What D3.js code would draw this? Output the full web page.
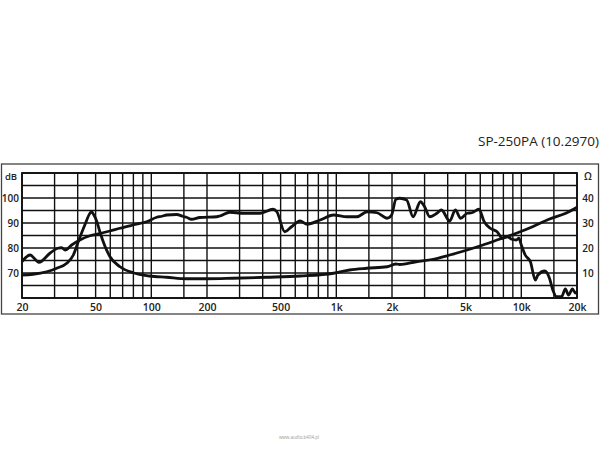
<!DOCTYPE html>
<html><head><meta charset="utf-8">
<script src="https://cdn.jsdelivr.net/npm/d3@7"></script>
<style>html,body{margin:0;padding:0;background:#fff;}svg{display:block;}</style>
</head><body>
<svg id="c" width="600" height="450"></svg>
<script>
const title = "SP-250PA (10.2970)";
const xTickValues = [20, 50, 100, 200, 500, 1000, 2000, 5000, 10000, 20000];
const xTickLabels = ["20", "50", "100", "200", "500", "1k", "2k", "5k", "10k", "20k"];
const xGrid = [20,30,40,50,60,70,80,90,100,150,200,300,400,500,600,700,800,900,1000,1500,2000,3000,4000,5000,6000,7000,8000,9000,10000,15000,20000];
const dbTicks = [70, 80, 90, 100];
const ohmTicks = [10, 20, 30, 40];

const splFreq = [20, 22.1, 24.7, 28.3, 31.2, 32.8, 34.2, 37.1, 41.1, 46.6, 52.7, 59.7, 67.7, 79.7, 94.4, 107, 114, 121, 137, 149, 155, 165, 183, 226, 235, 266, 313, 388, 455, 477, 526, 573, 637, 696, 817, 966, 1140, 1292, 1470, 1661, 1880, 1990, 2100, 2200, 2400, 2600, 2850, 3000, 3200, 3500, 3700, 4100, 4400, 4700, 5100, 5400, 5900, 6300, 6800, 7400, 7900, 8400, 8900, 9400, 9700, 10000, 10500, 11200, 11900, 12300, 13400, 14200, 14800, 15500, 16500, 17300, 18000, 18900, 19600, 20000];
const splDb = [74.5, 77.2, 74.3, 77.9, 79.9, 80.1, 79.2, 81.2, 83.2, 84.9, 85.8, 86.8, 87.9, 89.2, 90.5, 92.3, 92.7, 93.2, 93.4, 92.6, 92.3, 91.5, 92.2, 92.5, 92.8, 94.3, 93.9, 93.9, 95.5, 94.5, 86.5, 88.5, 90.8, 89.5, 91.2, 93.2, 92.5, 92.5, 94.5, 94.1, 91.9, 93.2, 99.5, 99.9, 99.2, 92.5, 98.5, 96.5, 92.5, 93.9, 95.2, 90.8, 95.2, 91.9, 93.9, 94.1, 95.5, 90.5, 87.9, 86.5, 83.9, 84.5, 83.5, 83.2, 83.9, 81.2, 77.2, 74.5, 67.2, 69.2, 70.8, 67.9, 63.2, 60.5, 60.5, 63.6, 61.2, 63.6, 62.0, 62.5];

const impFreq = [20, 22.9, 27.2, 30.8, 34.9, 37.9, 40.6, 43.7, 46.6, 47.5, 48.6, 50.8, 52.7, 56.3, 59.8, 67.7, 79.7, 98, 121, 155, 200, 275, 420, 637, 966, 1180, 1460, 1880, 2100, 2200, 2700, 3340, 4100, 5100, 6200, 7600, 9400, 11500, 14100, 17400, 20000];
const impOhm = [9.2, 9.5, 10.5, 11.9, 13.9, 17.2, 23.2, 29.2, 33.9, 34.5, 33.6, 30.5, 26.5, 20.5, 16.5, 12.5, 10.1, 8.8, 8.3, 7.7, 7.7, 7.9, 8.3, 8.8, 9.9, 11.2, 11.9, 12.5, 13.6, 13.4, 14.5, 15.5, 17.2, 19.2, 21.2, 23.5, 25.9, 28.5, 31.5, 33.9, 36.3];

const svg = d3.select("#c");
const L = 22, R = 577, T = 173, B = 298;
const x = d3.scaleLog().domain([20, 20000]).range([L, R]);
const yDb = d3.scaleLinear().domain([60, 110]).range([B, T]);
const yOhm = d3.scaleLinear().domain([0, 50]).range([B, T]);
const font = "'Open Sans', 'DejaVu Sans', sans-serif";

// title
svg.append("text").attr("x", 599).attr("y", 146).attr("text-anchor", "end")
  .attr("font-family", font).attr("font-size", 13.5).attr("fill", "#222").text(title);

// outer frame
svg.append("rect").attr("x", 1.5).attr("y", 164).attr("width", 597).attr("height", 150)
  .attr("fill", "none").attr("stroke", "#444").attr("stroke-width", 1.3);

// horizontal grid (every 5 dB)
const g = svg.append("g");
g.selectAll("line.h").data(d3.range(60, 111, 5)).join("line")
  .attr("x1", L).attr("x2", R).attr("y1", d => yDb(d)).attr("y2", d => yDb(d))
  .attr("stroke", "#111").attr("stroke-width", 1.4);
g.selectAll("line.v").data(xGrid).join("line")
  .attr("y1", T).attr("y2", B).attr("x1", d => x(d)).attr("x2", d => x(d))
  .attr("stroke", "#111").attr("stroke-width", 1.4);
svg.append("rect").attr("x", L).attr("y", T).attr("width", R - L).attr("height", B - T)
  .attr("fill", "none").attr("stroke", "#111").attr("stroke-width", 1.8);

// x axis labels
const xa = d3.axisBottom(x).tickValues(xTickValues).tickFormat((d, i) => xTickLabels[i]).tickSize(0).tickPadding(0);
const xg = svg.append("g").attr("transform", `translate(0,${B})`).call(xa);
xg.select(".domain").remove();
xg.selectAll("text").attr("y", 13).attr("dy", 0).attr("font-family", font).attr("font-size", 10.5).attr("font-weight", 600).attr("fill", "#222");

// left dB axis
const ya = d3.axisLeft(yDb).tickValues(dbTicks).tickSize(0).tickPadding(0);
const yg = svg.append("g").attr("transform", `translate(${L - 3},0)`).call(ya);
yg.select(".domain").remove();
yg.selectAll("text").attr("dy", "0.35em").attr("font-family", font).attr("font-size", 10).attr("font-weight", 600).attr("fill", "#222");
svg.append("text").attr("x", 11).attr("y", 180).attr("text-anchor", "middle").attr("font-family", font)
  .attr("font-size", 9.5).attr("font-weight", 600).attr("fill", "#222").text("dB");

// right ohm axis
const ra = d3.axisRight(yOhm).tickValues(ohmTicks).tickSize(0).tickPadding(0);
const rg = svg.append("g").attr("transform", `translate(588,0)`).call(ra);
rg.select(".domain").remove();
rg.selectAll("text").attr("text-anchor", "middle").attr("dy", "0.35em").attr("font-family", font).attr("font-size", 10).attr("font-weight", 600).attr("fill", "#222");
svg.append("text").attr("x", 588).attr("y", 180).attr("text-anchor", "middle").attr("font-family", font)
  .attr("font-size", 10).attr("font-weight", 600).attr("fill", "#222").text("Ω");

// curves
const splLine = d3.line().x((d, i) => x(splFreq[i])).y(d => yDb(d)).curve(d3.curveMonotoneX);
svg.append("path").datum(splDb).attr("d", splLine).attr("fill", "none").attr("stroke", "#111")
  .attr("stroke-width", 2.8).attr("stroke-linejoin", "round");
const impLine = d3.line().x((d, i) => x(impFreq[i])).y(d => yOhm(d)).curve(d3.curveMonotoneX);
svg.append("path").datum(impOhm).attr("d", impLine).attr("fill", "none").attr("stroke", "#111")
  .attr("stroke-width", 2.8).attr("stroke-linejoin", "round");

// watermark
svg.append("text").attr("x", 299).attr("y", 439).attr("text-anchor", "middle").attr("font-family", font)
  .attr("font-size", 4.5).attr("fill", "#999").text("www.audio.b404.pl");
</script>
</body></html>
